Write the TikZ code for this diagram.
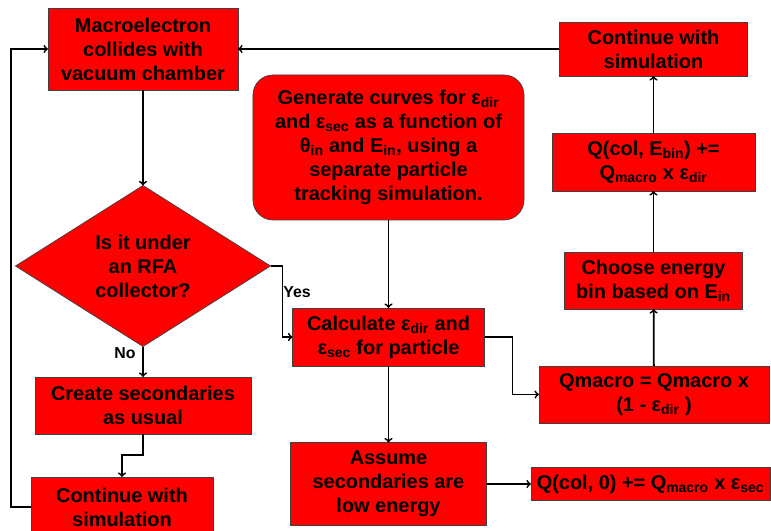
\documentclass[tikz,border=0pt]{standalone}
\usepackage{fontspec}
\setmainfont{Liberation Sans}
\usetikzlibrary{shapes.geometric}

\begin{document}
\begin{tikzpicture}[x=0.03cm,y=0.03cm]
    % Stili per il diagramma di flusso
    \tikzset{
        flow_box/.style={
            draw=black!75, % Bordo sottile
            fill=red, % Sfondo rosso
            text=black,
            line width=0.6pt,
            align=center, % Testo centrato
            font=\fontsize{17}{20.4}\selectfont\bfseries,
            inner sep=0pt,
            outer sep=0pt
        },
        flow_round/.style={
            flow_box,
            rounded corners=0.6cm % Angoli arrotondati
        },
        flow_decision/.style={
            flow_box,
            diamond % Rombo per la decisione
        },
        flow_label/.style={
            font=\fontsize{13.5}{16}\selectfont\bfseries,
            inner sep=0pt
        },
        flow_arrow/.style={
            ->,
            line width=1.5pt,
            draw=black
        }
    }

    % Area del disegno
    \useasboundingbox (0,0) rectangle (771,531);

    % Colonna di sinistra
    \node[flow_box, minimum width=5.7cm, minimum height=2.46cm] (macro) at (143,482) {Macroelectron\\collides with\\vacuum chamber};
    \node[flow_decision, minimum width=7.65cm, minimum height=4.83cm] (rfa) at (143,265) {Is it under\\an RFA\\collector?};
    \node[flow_box, minimum width=6.48cm, minimum height=1.71cm] (create) at (143,125.5) {Create secondaries\\as usual};
    \node[flow_box, minimum width=5.46cm, minimum height=1.8cm] (cont_left) at (122,24) {Continue with\\simulation};

    % Colonna centrale
    \node[flow_round, minimum width=8.13cm, minimum height=4.35cm] (generate) at (388.5,383.5) {Generate curves for ε\textsubscript{dir}\\and ε\textsubscript{sec} as a function of\\θ\textsubscript{in} and E\textsubscript{in}, using a\\separate particle\\tracking simulation.};
    \node[flow_box, minimum width=5.76cm, minimum height=1.74cm] (calc) at (388.5,194) {Calculate ε\textsubscript{dir} and\\ε\textsubscript{sec} for particle};
    \node[flow_box, minimum width=5.88cm, minimum height=2.49cm] (assume) at (388.5,47) {Assume\\secondaries are\\low energy};

    % Colonna di destra
    \node[flow_box, minimum width=5.64cm, minimum height=1.62cm] (cont_right) at (653.5,482) {Continue with\\simulation};
    \node[flow_box, minimum width=6.09cm, minimum height=1.74cm] (qbin) at (653.5,369) {Q(col, E\textsubscript{bin}) +=\\Q\textsubscript{macro} x ε\textsubscript{dir}};
    \node[flow_box, minimum width=5.34cm, minimum height=1.71cm] (choose) at (653.5,250.5) {Choose energy\\bin based on E\textsubscript{in}};
    \node[flow_box, minimum width=6.9cm, minimum height=1.71cm] (qmacro) at (654,136.5) {Qmacro = Qmacro x\\(1 - ε\textsubscript{dir} )};
    \node[flow_box, minimum width=7.17cm, minimum height=0.99cm] (qcol) at (650.5,47) {Q(col, 0) += Q\textsubscript{macro} x ε\textsubscript{sec}};

    % Etichette delle uscite
    \node[flow_label] (yes) at (297,239) {Yes};
    \node[flow_label] (no) at (125,178) {No};

    % Frecce
    \draw[flow_arrow] (cont_right) -- (macro);
    \draw[flow_arrow] (cont_left.west) -- ++(-20,0) |- (macro.west);
    \draw[flow_arrow] (macro) -- (rfa);
    \draw[flow_arrow] (rfa.east) -- ++(12,0) |- (calc.west);
    \draw[flow_arrow] (rfa) -- (create);
    \draw[flow_arrow] (create.south) -- ++(0,-21) -| (cont_left.north);
    \draw[flow_arrow] (generate) -- (calc);
    \draw[flow_arrow] (calc) -- (assume);
    \draw[flow_arrow] (assume) -- (qcol);
    \draw[flow_arrow] (calc.east) -- ++(28,0) |- (qmacro.west);
    \draw[flow_arrow] (qmacro) -- (choose);
    \draw[flow_arrow] (choose) -- (qbin);
    \draw[flow_arrow] (qbin) -- (cont_right);

\end{tikzpicture}
\end{document}
